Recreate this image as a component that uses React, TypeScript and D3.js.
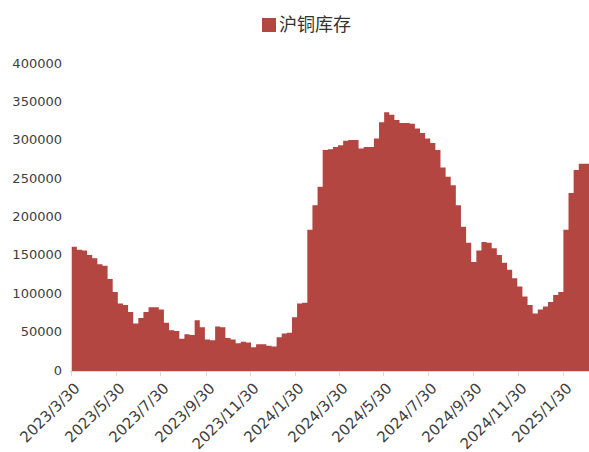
import React from 'react'
import * as d3 from 'd3'

// 沪铜库存, weekly (Fridays), tonnes
const startWeek = '2023-03-31'
const stock = [
  162000, 158000, 157000, 151000, 147000, 139000, 137000, 120000, 103000, 88000,
  86000, 77000, 62000, 69000, 77000, 83000, 83000, 80000, 63000, 53000,
  52000, 42000, 48000, 47000, 66000, 57000, 41000, 40000, 58000, 57000,
  43000, 41000, 36000, 38000, 37000, 31000, 35000, 35000, 33000, 32000,
  44000, 49000, 50000, 70000, 88000, 89000, 184000, 216000, 240000, 288000,
  289000, 292000, 294000, 300000, 301000, 301000, 290000, 292000, 292000, 303000,
  324000, 337000, 334000, 327000, 323000, 323000, 322000, 316000, 310000, 303000,
  297000, 288000, 265000, 253000, 242000, 216000, 188000, 167000, 142000, 157000,
  168000, 167000, 160000, 151000, 141000, 132000, 121000, 110000, 97000, 86000,
  75000, 80000, 84000, 90000, 99000, 103000, 184000, 232000, 262000, 270000,
  270000,
]
const xTicks = [
  '2023/3/30', '2023/5/30', '2023/7/30', '2023/9/30', '2023/11/30', '2024/1/30',
  '2024/3/30', '2024/5/30', '2024/7/30', '2024/9/30', '2024/11/30', '2025/1/30',
]
const yTicks = [0, 50000, 100000, 150000, 200000, 250000, 300000, 350000, 400000]
const seriesName = '沪铜库存'

const parseSlash = d3.timeParse('%Y/%m/%d')
const parseDash = d3.timeParse('%Y-%m-%d')

export default function App() {
  const width = 589
  const height = 452
  const color = '#b44641'

  const first = parseDash(startWeek) as Date
  const rows = stock.map((v, i) => ({ date: d3.timeDay.offset(first, 7 * i), value: v }))
  const lastDate = d3.timeDay.offset(rows[rows.length - 1].date, 7)
  // hold the last week's level to the edge of the plot
  const areaRows = [...rows, { date: lastDate, value: stock[stock.length - 1] }]

  const x = d3.scaleTime()
    .domain([parseSlash('2023/3/30') as Date, lastDate])
    .range([71, 589])
  const y = d3.scaleLinear().domain([0, 400000]).range([371, 64])

  const area = d3.area<{ date: Date; value: number }>()
    .curve(d3.curveStepAfter)
    .x(d => x(d.date))
    .y0(y(0))
    .y1(d => y(d.value))

  return (
    <svg width={width} height={height} style={{ position: 'absolute', left: 0, top: 0, background: '#fff' }}>
      {/* legend */}
      <rect x={262} y={18} width={14} height={14} fill={color} />
      <text x={279} y={26} dominantBaseline="middle" fontSize={18}
        fontFamily="'Noto Sans CJK SC', sans-serif" fill="#333">{seriesName}</text>

      <path d={area(areaRows) || ''} fill={color} />

      {/* y axis labels */}
      {yTicks.map(t => (
        <text key={t} x={62} y={y(t)} textAnchor="end" dominantBaseline="middle"
          fontSize={13} fontFamily="'DejaVu Sans', sans-serif" fill="#404040">{t}</text>
      ))}

      {/* x axis */}
      <line x1={70} x2={589} y1={371.5} y2={371.5} stroke="#d9d9d9" />
      {xTicks.map(t => {
        const tx = Math.round(x(parseSlash(t) as Date)) + 0.5
        return (
          <g key={t}>
            <line x1={tx} x2={tx} y1={371} y2={376} stroke="#d9d9d9" />
            <text transform={`translate(${tx + 6},${386}) rotate(-45)`} textAnchor="end"
              dominantBaseline="middle" fontSize={15} fontFamily="'DejaVu Sans', sans-serif"
              fill="#404040">{t}</text>
          </g>
        )
      })}
    </svg>
  )
}
